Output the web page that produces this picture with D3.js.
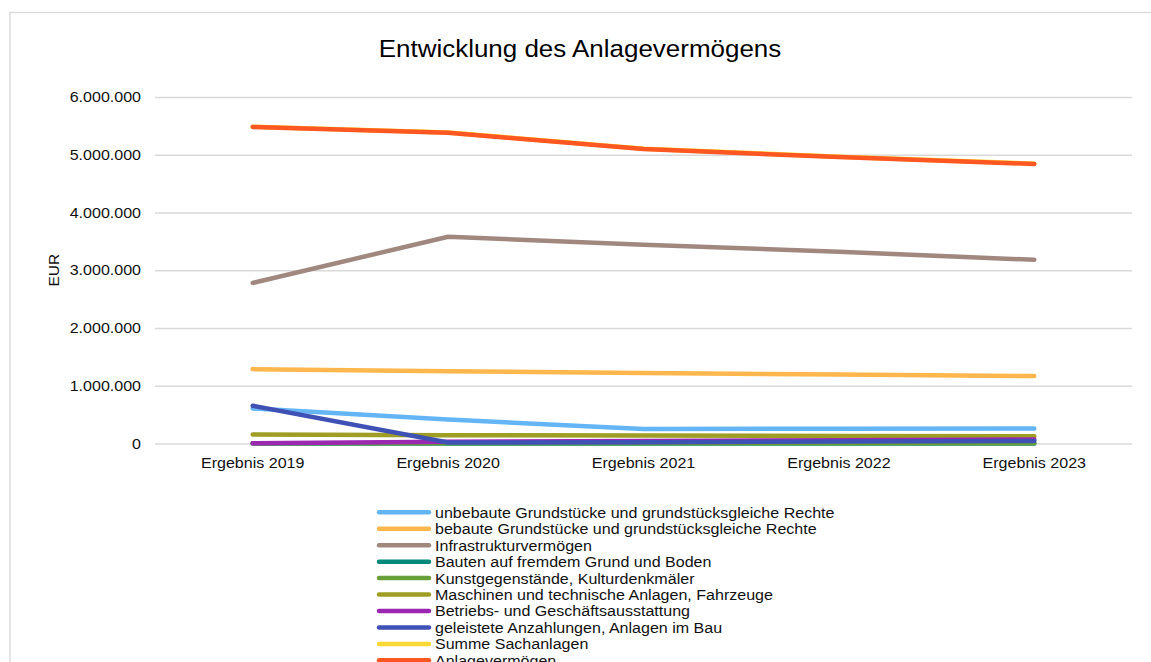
<!DOCTYPE html>
<html>
<head>
<meta charset="utf-8">
<script src="https://cdn.jsdelivr.net/npm/d3@7"></script>
<style>
  body { margin: 0; background: #fff; }
  text { font-family: "Liberation Sans", Arial, sans-serif; }
</style>
</head>
<body>
<svg id="chart" width="1151" height="662"></svg>
<script>
// data
const categories = ['Ergebnis 2019', 'Ergebnis 2020', 'Ergebnis 2021', 'Ergebnis 2022', 'Ergebnis 2023'];
const seriesNames = [
    'unbebaute Grundstücke und grundstücksgleiche Rechte',
    'bebaute Grundstücke und grundstücksgleiche Rechte',
    'Infrastrukturvermögen',
    'Bauten auf fremdem Grund und Boden',
    'Kunstgegenstände, Kulturdenkmäler',
    'Maschinen und technische Anlagen, Fahrzeuge',
    'Betriebs- und Geschäftsausstattung',
    'geleistete Anzahlungen, Anlagen im Bau',
    'Summe Sachanlagen',
    'Anlagevermögen'
];
const unbebaute = [607000, 415000, 252000, 255000, 260000];
const bebaute = [1288000, 1250000, 1220000, 1195000, 1168000];
const infrastruktur = [2780000, 3580000, 3440000, 3320000, 3180000];
const bautenFremd = [0, 0, 0, 0, 0];
const kunst = [4000, 4000, 4000, 4000, 4000];
const maschinen = [155000, 145000, 138000, 130000, 125000];
const betriebs = [3000, 30000, 42000, 58000, 70000];
const anzahlungen = [655000, 18000, 22000, 35000, 45000];
const summeSachanlagen = [5486000, 5386000, 5106000, 4966000, 4846000];
const anlagevermoegen = [5480000, 5380000, 5100000, 4960000, 4840000];
const yTicks = [0, 1000000, 2000000, 3000000, 4000000, 5000000, 6000000];
const colors = ['#64B5F6', '#FFB74D', '#A1887F', '#00897B', '#689F38',
    '#9E9D24', '#9C27B0', '#3F51B5', '#FDD835', '#FF5722'];

const seriesValues = [unbebaute, bebaute, infrastruktur, bautenFremd, kunst,
    maschinen, betriebs, anzahlungen, summeSachanlagen, anlagevermoegen];
const series = seriesNames.map((name, i) => ({name, values: seriesValues[i], color: colors[i]}));

const STRETCH = 1.1;        // reference text is a bit wider than it is tall
const FONT = 14.6;
const LINE_WIDTH = 4.5;
const GRID_COLOR = '#d9d9d9';
const plot = {left: 155, right: 1132, top: 97, bottom: 443.5};

const svg = d3.select('#chart');

svg.append('rect')          // chart frame, runs off the right and bottom edge
    .attr('x', 10).attr('y', 12.5)
    .attr('width', 1200).attr('height', 700)
    .attr('fill', '#fff')
    .attr('stroke', GRID_COLOR)
    .attr('stroke-width', 1.3);

const de = d3.formatLocale({decimal: ',', thousands: '.', grouping: [3], currency: ['', ' €']});
const fmt = de.format(',.0f');

const xScale = d3.scaleBand()
    .domain(categories)
    .range([plot.left, plot.right]);
const yScale = d3.scaleLinear()
    .domain([0, 6000000])
    .range([plot.bottom, plot.top]);
const xPos = c => xScale(c) + xScale.bandwidth() / 2;

// y axis with gridlines
const yAxis = svg.append('g')
    .attr('transform', `translate(${plot.left},0)`)
    .call(d3.axisLeft(yScale)
        .tickValues(yTicks)
        .tickFormat(fmt)
        .tickSize(-(plot.right - plot.left))
        .tickPadding(12.7));
yAxis.select('.domain').remove();
yAxis.selectAll('.tick line')
    .attr('stroke', GRID_COLOR)
    .attr('stroke-width', 1.5);
yAxis.selectAll('.tick text')
    .attr('font-size', FONT)
    .attr('fill', '#111')
    .attr('transform', `scale(${STRETCH},1)`);

// x axis labels
const xAxis = svg.append('g')
    .attr('transform', `translate(0,${plot.bottom})`)
    .call(d3.axisBottom(xScale).tickSize(0).tickPadding(14));
xAxis.select('.domain').remove();
xAxis.selectAll('.tick text')
    .attr('font-size', FONT)
    .attr('fill', '#111')
    .attr('transform', `scale(${STRETCH},1)`);

svg.append('text')
    .attr('transform', `translate(53,${(plot.top + plot.bottom) / 2}) rotate(-90)`)
    .attr('text-anchor', 'middle')
    .attr('dy', '0.36em')
    .attr('font-size', 15.5)
    .attr('fill', '#111')
    .text('EUR');

svg.append('text')
    .attr('transform', `translate(580,56.5) scale(${STRETCH},1)`)
    .attr('text-anchor', 'middle')
    .attr('font-size', 23.6)
    .attr('fill', '#000')
    .text('Entwicklung des Anlagevermögens');

// lines, in legend order so the last series lies on top
const line = d3.line()
    .x((d, i) => xPos(categories[i]))
    .y(d => yScale(d));

svg.append('g').attr('class', 'lines')
    .selectAll('path')
    .data(series)
    .join('path')
    .attr('d', d => line(d.values))
    .attr('fill', 'none')
    .attr('stroke', d => d.color)
    .attr('stroke-width', LINE_WIDTH)
    .attr('stroke-linecap', 'round')
    .attr('stroke-linejoin', 'round');

// legend (last row is cut by the bottom edge, as in the reference)
const legend = svg.append('g').attr('class', 'legend');
const rows = legend.selectAll('g')
    .data(series)
    .join('g')
    .attr('transform', (d, i) => `translate(0,${512.3 + i * 16.45})`);
rows.append('line')
    .attr('x1', 379).attr('x2', 429)
    .attr('stroke', d => d.color)
    .attr('stroke-width', LINE_WIDTH)
    .attr('stroke-linecap', 'round');
rows.append('text')
    .attr('transform', `translate(435,0) scale(${STRETCH},1)`)
    .attr('dy', '0.37em')
    .attr('font-size', FONT)
    .attr('fill', '#111')
    .text(d => d.name);
</script>
</body>
</html>
